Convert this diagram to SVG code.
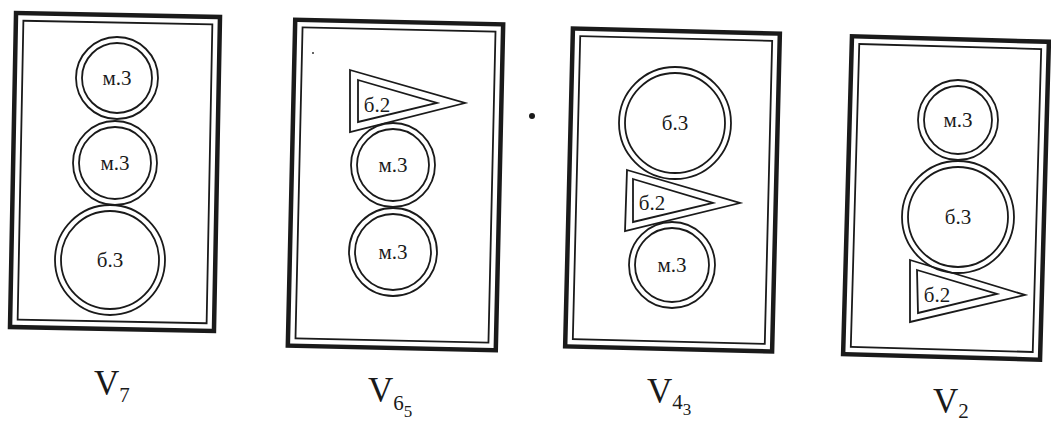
<svg xmlns="http://www.w3.org/2000/svg" width="1051" height="426" viewBox="0 0 1051 426">
<style>
.outer{fill:none;stroke:#1a1a1a;stroke-width:4.5}
.inner{fill:none;stroke:#1a1a1a;stroke-width:1.8}
.ring{fill:none;stroke:#1a1a1a;stroke-width:1.8}
.lbl{font-family:"Liberation Serif","Times New Roman",serif;font-size:21px;fill:#1a1a1a;text-anchor:middle}
.v{font-family:"Liberation Serif","Times New Roman",serif;font-size:35px;fill:#1a1a1a}
.sub{font-size:21px}
.sub2{font-size:17px}
</style>
<rect width="1051" height="426" fill="#ffffff"/>

<g id="panel-v7">
  <g transform="rotate(1.1 115 172)">
    <rect class="outer" x="13" y="15" width="204" height="314"/>
    <rect class="inner" x="20.5" y="22.5" width="189" height="299"/>
  </g>
  <g id="v7-m3a"><circle class="ring" cx="117" cy="78" r="41"/><circle class="ring" cx="117" cy="78" r="35"/><text class="lbl" x="117" y="85">м.3</text></g>
  <g id="v7-m3b"><circle class="ring" cx="115" cy="163" r="42"/><circle class="ring" cx="115" cy="163" r="36"/><text class="lbl" x="115" y="170">м.3</text></g>
  <g id="v7-b3"><circle class="ring" cx="110" cy="260" r="55"/><circle class="ring" cx="110" cy="260" r="49"/><text class="lbl" x="110" y="267">б.3</text></g>
  <text class="v" x="94" y="395">V<tspan class="sub" dy="7">7</tspan></text>
</g>

<g id="panel-v65">
  <g transform="rotate(1.3 395.5 185)">
    <rect class="outer" x="291.5" y="22" width="208" height="326"/>
    <rect class="inner" x="299" y="29.5" width="193" height="311"/>
  </g>
  <g id="v65-b2"><polygon class="ring" points="350,70 465,103 350,132"/><polygon class="ring" points="358,80 437,103 358,122"/><text class="lbl" x="377" y="112">б.2</text></g>
  <g id="v65-m3a"><circle class="ring" cx="393" cy="165" r="42"/><circle class="ring" cx="393" cy="165" r="36"/><text class="lbl" x="393" y="172">м.3</text></g>
  <g id="v65-m3b"><circle class="ring" cx="393" cy="252" r="44"/><circle class="ring" cx="393" cy="252" r="38"/><text class="lbl" x="393" y="259">м.3</text></g>
  <circle cx="313" cy="53" r="1" fill="#333"/>
  <text class="v" x="368" y="402">V<tspan class="sub" dy="8">6</tspan><tspan class="sub2" dy="7">5</tspan></text>
</g>

<circle cx="532" cy="116" r="3" fill="#1a1a1a"/>

<g id="panel-v43">
  <g transform="rotate(1.4 672.5 190)">
    <rect class="outer" x="569" y="31" width="207" height="318"/>
    <rect class="inner" x="576.5" y="38.5" width="192" height="303"/>
  </g>
  <g id="v43-b3"><circle class="ring" cx="675" cy="123" r="56"/><circle class="ring" cx="675" cy="123" r="50"/><text class="lbl" x="675" y="130">б.3</text></g>
  <g id="v43-b2"><polygon class="ring" points="627,170 740,203 625,231"/><polygon class="ring" points="633,179 713,203 633,222"/><text class="lbl" x="652" y="210">б.2</text></g>
  <g id="v43-m3"><circle class="ring" cx="672" cy="265" r="43"/><circle class="ring" cx="672" cy="265" r="37"/><text class="lbl" x="672" y="272">м.3</text></g>
  <text class="v" x="647" y="403">V<tspan class="sub" dy="6">4</tspan><tspan class="sub2" dy="6">3</tspan></text>
</g>

<g id="panel-v2">
  <g transform="rotate(1.6 946 198)">
    <rect class="outer" x="847.5" y="39" width="197" height="318"/>
    <rect class="inner" x="855" y="46.5" width="182" height="303"/>
  </g>
  <g id="v2-m3"><circle class="ring" cx="958" cy="120" r="40"/><circle class="ring" cx="958" cy="120" r="34"/><text class="lbl" x="958" y="127">м.3</text></g>
  <g id="v2-b3"><circle class="ring" cx="958" cy="217" r="56"/><circle class="ring" cx="958" cy="217" r="50"/><text class="lbl" x="958" y="224">б.3</text></g>
  <g id="v2-b2"><polygon class="ring" points="910,260 1025,295 910,322"/><polygon class="ring" points="917,270 997,294 918,313"/><text class="lbl" x="937" y="302">б.2</text></g>
  <text class="v" x="933" y="413">V<tspan class="sub" dy="5">2</tspan></text>
</g>

<g id="connectors"></g>
</svg>
